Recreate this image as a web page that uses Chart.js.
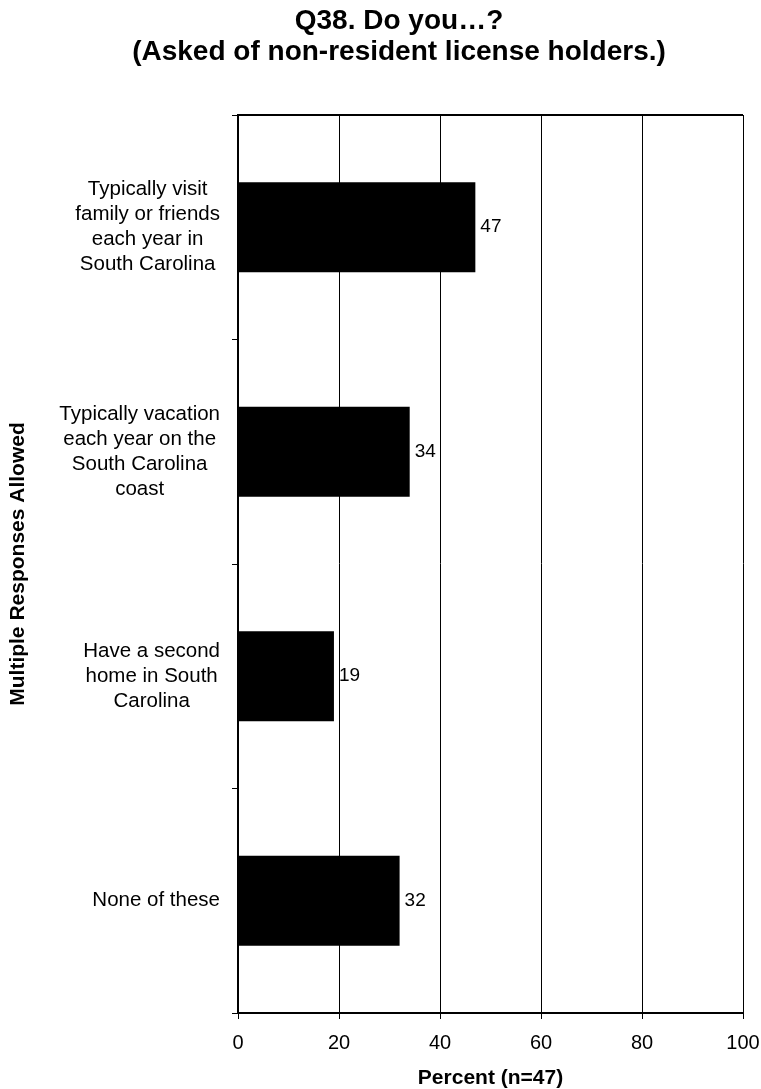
<!DOCTYPE html>
<html>
<head>
    <meta charset="utf-8" />
    <title>Q38</title>
    <script src="https://cdn.jsdelivr.net/npm/chart.js@4.4.1/dist/chart.umd.min.js"></script>
    <style>
        body { margin: 0; background: #fff; }
        #wrap { width: 761px; height: 1089px; }
    </style>
</head>
<body>
    <div id="wrap"><canvas id="chart" width="761" height="1089"></canvas></div>
    <script>
        // categories (one array of lines per bar, as in the original wrap)
        const categories = [
            ['Typically visit', 'family or friends', 'each year in', 'South Carolina'],
            ['Typically vacation', 'each year on the', 'South Carolina', 'coast'],
            ['Have a second', 'home in South', 'Carolina'],
            ['None of these']
        ];
        const percents = [47, 34, 19, 32];
        const xTicks = [0, 20, 40, 60, 80, 100];

        const titleLines = ['Q38. Do you\u2026?', '(Asked of non-resident license holders.)'];
        const xTitle = 'Percent (n=47)';
        const yTitle = 'Multiple Responses Allowed';

        const FONT = "'Liberation Sans', Arial, Helvetica, sans-serif";

        // chart title, centred a bit right of the page middle like the original
        const topTitle = {
            id: 'topTitle',
            afterDraw(chart) {
                const ctx = chart.ctx;
                ctx.save();
                ctx.font = 'bold 28px ' + FONT;
                ctx.fillStyle = '#000';
                ctx.textAlign = 'center';
                ctx.textBaseline = 'middle';
                titleLines.forEach((t, i) => ctx.fillText(t, 399, 21 + i * 31));
                ctx.restore();
            }
        };

        // category labels: each block right aligned, lines centred inside it
        const catLabels = {
            id: 'catLabels',
            afterDraw(chart) {
                const ctx = chart.ctx;
                const y = chart.scales.y;
                const lineH = 25;
                ctx.save();
                ctx.font = '20.5px ' + FONT;
                ctx.fillStyle = '#000';
                ctx.textAlign = 'center';
                ctx.textBaseline = 'middle';
                categories.forEach((lines, i) => {
                    const cy = y.getPixelForValue(i);
                    const widest = Math.max(...lines.map(l => ctx.measureText(l).width));
                    const cx = y.right - 18 - widest / 2;
                    lines.forEach((l, k) => {
                        ctx.fillText(l, cx, cy - (lines.length - 1) * lineH / 2 + k * lineH);
                    });
                });
                ctx.restore();
            }
        };

        // value next to each bar, plus the top frame line
        const barValues = {
            id: 'barValues',
            afterDatasetsDraw(chart) {
                const ctx = chart.ctx;
                const meta = chart.getDatasetMeta(0);
                ctx.save();
                ctx.font = '19px ' + FONT;
                ctx.fillStyle = '#000';
                ctx.textAlign = 'left';
                ctx.textBaseline = 'middle';
                meta.data.forEach((bar, i) => {
                    ctx.fillText(String(percents[i]), bar.x + 5, bar.y);
                });
                const a = chart.chartArea;
                ctx.strokeStyle = '#000';
                ctx.lineWidth = 2;
                ctx.beginPath();
                ctx.moveTo(a.left, a.top);
                ctx.lineTo(a.right, a.top);
                ctx.stroke();
                ctx.restore();
            }
        };

        new Chart(document.getElementById('chart').getContext('2d'), {
            type: 'bar',
            data: {
                labels: categories.map((c) => c.join(' ')),
                datasets: [{
                    data: percents,
                    backgroundColor: '#000',
                    borderWidth: 0,
                    categoryPercentage: 1,
                    barPercentage: 0.4
                }]
            },
            options: {
                indexAxis: 'y',
                responsive: false,
                animation: false,
                devicePixelRatio: 1,
                layout: { padding: { left: 0, right: 18, top: 115, bottom: 0 } },
                plugins: {
                    legend: { display: false },
                    tooltip: { enabled: false },
                    title: { display: false }
                },
                scales: {
                    x: {
                        min: 0,
                        max: 100,
                        afterBuildTicks: (s) => { s.ticks = xTicks.map((v) => ({ value: v })); },
                        afterFit: (s) => { s.height = 76; s.paddingLeft = 0; s.paddingRight = 0; },
                        ticks: {
                            color: '#000',
                            padding: 12,
                            maxRotation: 0,
                            font: { family: FONT, size: 20 }
                        },
                        grid: { color: '#000', lineWidth: 1, tickLength: 6 },
                        border: { color: '#000', width: 2 },
                        title: {
                            display: true,
                            text: xTitle,
                            color: '#000',
                            font: { family: FONT, size: 21, weight: 'bold' },
                            padding: { top: 9, bottom: -1.5 }
                        }
                    },
                    y: {
                        afterFit: (s) => { s.width = 238; },
                        ticks: { display: false },
                        grid: { offset: true, drawOnChartArea: false, drawTicks: true, tickLength: 6, color: '#000' },
                        border: { color: '#000', width: 2 },
                        title: {
                            display: true,
                            text: yTitle,
                            color: '#000',
                            font: { family: FONT, size: 21, weight: 'bold' },
                            padding: { top: 6, bottom: 0 }
                        }
                    }
                }
            },
            plugins: [topTitle, catLabels, barValues]
        });
    </script>
</body>
</html>
